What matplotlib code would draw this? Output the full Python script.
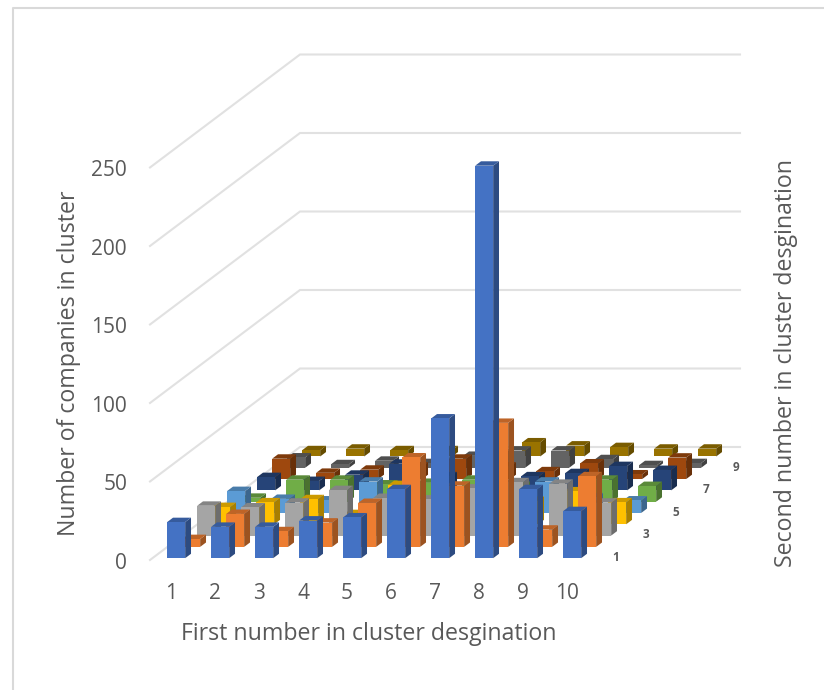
import numpy as np
import matplotlib
matplotlib.use('Agg')
import matplotlib.pyplot as plt
from matplotlib.patches import Polygon
from matplotlib.colors import to_rgb

plt.rcParams['font.family'] = ['Open Sans', 'DejaVu Sans']

categories = ['1', '2', '3', '4', '5', '6', '7', '8', '9', '10']
depth_labels = ['1', '3', '5', '7', '9']
value_ticks = [0, 50, 100, 150, 200, 250]

# one list per second number of the cluster
s1 = [23, 20, 20, 24, 26, 44, 89, 250, 44, 30]
s2 = [5, 21, 10, 15.5, 28, 57, 39, 79, 11, 45]
s3 = [19, 18, 21, 29, 24, 23, 30, 34, 33, 21]
s4 = [11, 14, 16, 6.5, 25, 12, 20, 15, 21, 14]
s5 = [14, 9, 8, 20, 5, 5, 10, 20, 10, 8]
s6 = [2.5, 14, 14, 11, 12, 14, 10, 5, 14, 10]
s7 = [8.5, 6, 10, 17, 9, 5, 9, 11, 15.5, 13]
s8 = [13, 4, 6, 8, 13, 8, 5, 10, 3, 13.7]
s9 = [6.6, 2.3, 4.5, 3, 7.6, 11, 11, 5.5, 1.7, 3]
s10 = [4, 5, 4, 4, 5, 9, 7, 6, 5, 5]
series = [s1, s2, s3, s4, s5, s6, s7, s8, s9, s10]
colors = ['#4472C4', '#ED7D31', '#A5A5A5', '#FFC000', '#5B9BD5',
          '#70AD47', '#264478', '#9E480E', '#636363', '#997300']

W, H = 824, 690
px_x = 44.0       # pixels per category
px_y = 1.57       # pixels per company
dx = 15.0 / px_x  # oblique shift of one series, in x units
dy = 11.3 / px_y  # same, in value units

fig = plt.figure(figsize=(W / 100, H / 100), dpi=100)
ax = fig.add_axes([0, 0, 1, 1])
ax.set_xlim(-150 / px_x, (W - 150) / px_x)
ax.set_ylim(-(H - 560) / px_y, 560 / px_y)
ax.axis('off')


def proj(x, d, v):
    return x + d * dx, v + d * dy


grid = '#E1E1E1'
for v in value_ticks:
    x0, y0 = proj(0, 0, v)
    x1, y1 = proj(0, 10, v)
    x2, y2 = proj(10, 10, v)
    ax.plot([x0, x1, x2], [y0, y1, y2], color=grid, lw=1.5, solid_joinstyle='miter', zorder=1)


def shade(c, f):
    return tuple(i * f for i in to_rgb(c))


bw = 18.0 / px_x
bd = 0.39
z = 2
# back series first, so the front ones cover them
for d in range(len(series) - 1, -1, -1):
    for i, v in enumerate(series[d]):
        xl = i + 0.5 - bw / 2 + 0.04
        xr = xl + bw
        df = d + 0.5 - 0.34
        db = df + bd
        front = [proj(xl, df, 0), proj(xr, df, 0), proj(xr, df, v), proj(xl, df, v)]
        side = [proj(xr, df, 0), proj(xr, db, 0), proj(xr, db, v), proj(xr, df, v)]
        top = [proj(xl, df, v), proj(xr, df, v), proj(xr, db, v), proj(xl, db, v)]
        ax.add_patch(Polygon(side, fc=shade(colors[d], 0.66), ec='none', zorder=z))
        ax.add_patch(Polygon(top, fc=shade(colors[d], 0.8), ec='none', zorder=z))
        ax.add_patch(Polygon(front, fc=colors[d], ec='none', zorder=z))
        z += 1

txt = '#595959'
for v in value_ticks:
    ax.text(-23 / px_x, v - 2.2, str(v), color=txt, fontsize=15, ha='right', va='center', zorder=100)
for i, c in enumerate(categories):
    ax.text(i + 0.48, -33.5 / px_y, c, color=txt, fontsize=15, ha='center', va='center', zorder=100)
for k, lab in enumerate(depth_labels):
    x, y = proj(10.42, k * 2 + 0.5, -2)
    ax.text(x, y, lab, color=txt, fontsize=8.5, fontweight='bold', ha='center', va='center', zorder=100)

ax.text(369 / px_x - 150 / px_x, -74 / px_y, 'First number in cluster desgination', color=txt,
        fontsize=16.7, ha='center', va='center', zorder=100)
ax.text(-81 / px_x, 196.5 / px_y, 'Number of companies in cluster', color=txt,
        fontsize=16.7, rotation=90, ha='center', va='center', zorder=100)
ax.text((786 - 150) / px_x, (560 - 363) / px_y, 'Second number in cluster desgination', color=txt,
        fontsize=16.7, rotation=90, ha='center', va='center', zorder=100)

# chart frame, only the top and left edges show in the crop
fig.add_artist(plt.Line2D([13 / W, 13 / W, 1], [0, 1 - 8 / H, 1 - 8 / H], color='#D9D9D9', lw=1.5))

fig.savefig('out.png', dpi=100)
